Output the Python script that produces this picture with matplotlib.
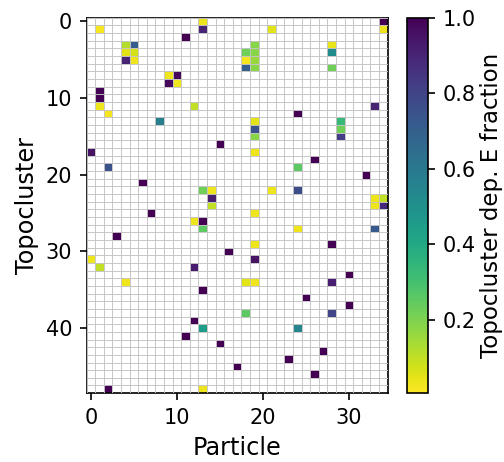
import numpy as np
import matplotlib
matplotlib.use("Agg")
import matplotlib.pyplot as plt

n_topo = 49
n_part = 35

# (topocluster, particle, deposited energy fraction)
topo_idx = [0, 0, 1, 1, 1, 1, 2, 3, 3, 3, 3, 4, 4, 4, 4, 4, 5, 5, 5, 5,
            6, 6, 6, 7, 7, 8, 8, 9, 10, 11, 11, 11, 12, 12, 13, 13, 13,
            14, 14, 15, 15, 16, 17, 17, 18, 19, 19, 20, 21, 22, 22, 22, 22,
            23, 23, 23, 24, 24, 24, 25, 25, 26, 26, 27, 27, 27, 28, 29, 29,
            30, 31, 31, 32, 32, 33, 34, 34, 34, 34, 35, 36, 37, 38, 38, 39,
            40, 40, 41, 42, 43, 44, 45, 46, 48, 48]
part_idx = [13, 34, 1, 13, 21, 34, 11, 4, 5, 19, 28, 4, 5, 18, 19, 28, 4, 5, 18, 19,
            18, 19, 28, 9, 10, 9, 10, 1, 1, 1, 12, 33, 2, 24, 8, 19, 29,
            19, 29, 19, 29, 15, 0, 19, 26, 2, 24, 32, 6, 13, 14, 21, 24,
            14, 33, 34, 14, 33, 34, 7, 19, 12, 13, 13, 24, 33, 3, 19, 28,
            16, 0, 19, 1, 12, 30, 4, 18, 19, 28, 13, 25, 30, 18, 28, 12,
            13, 24, 11, 15, 27, 23, 17, 26, 2, 13]
e_frac = [0.03, 1.0, 0.02, 0.9, 0.05, 0.03, 1.0, 0.12, 0.72, 0.18, 0.04, 0.05, 0.07, 0.22, 0.18, 0.52, 0.9, 0.03, 0.02, 0.16,
          0.7, 0.18, 0.22, 0.03, 0.98, 0.98, 0.03, 1.0, 1.0, 0.03, 0.1, 0.9, 0.02, 1.0, 0.58, 0.05, 0.33,
          0.75, 0.22, 0.18, 0.82, 1.0, 0.95, 0.03, 1.0, 0.75, 0.25, 1.0, 1.0, 0.22, 0.03, 0.03, 0.77,
          0.92, 0.03, 0.1, 0.1, 0.03, 0.88, 1.0, 0.03, 0.03, 1.0, 0.25, 0.03, 0.72, 1.0, 0.03, 1.0,
          1.0, 0.03, 0.95, 0.1, 0.92, 1.0, 0.03, 0.05, 0.03, 0.92, 1.0, 1.0, 1.0, 0.25, 0.8, 1.0,
          0.45, 0.55, 1.0, 1.0, 1.0, 1.0, 1.0, 1.0, 1.0, 0.03]

mat = np.full((n_topo, n_part), np.nan)
for t, p, f in zip(topo_idx, part_idx, e_frac):
    mat[t, p] = f
mat = np.ma.masked_invalid(mat)

fig = plt.figure(figsize=(3.36, 3.08), dpi=150)
ax = fig.add_axes([0.172, 0.149, 0.597, 0.813])
cax = fig.add_axes([0.8075, 0.149, 0.042, 0.813])

xe = np.arange(n_part + 1) - 0.5
ye = np.arange(n_topo + 1) - 0.5
im = ax.pcolormesh(xe, ye, mat, cmap="viridis_r", vmin=0.005, vmax=1.0)
ax.set_xlim(-0.5, n_part - 0.5)
ax.set_ylim(n_topo - 0.5, -0.5)

ax.set_xticks(xe, minor=True)
ax.set_yticks(ye, minor=True)
ax.grid(which="minor", color="#c4c4c4", linewidth=0.45)
ax.set_axisbelow(False)
ax.tick_params(which="minor", length=0)
ax.set_xticks([0, 10, 20, 30])
ax.set_yticks([0, 10, 20, 30, 40])
ax.set_xlabel("Particle", fontsize=11.5, labelpad=4)
ax.set_ylabel("Topocluster", fontsize=11.5, labelpad=3)

cb = fig.colorbar(im, cax=cax)
cb.set_ticks([0.2, 0.4, 0.6, 0.8, 1.0])
cb.set_label("Topocluster dep. E fraction", fontsize=11, labelpad=2)

fig.savefig("out.png", dpi=150)
